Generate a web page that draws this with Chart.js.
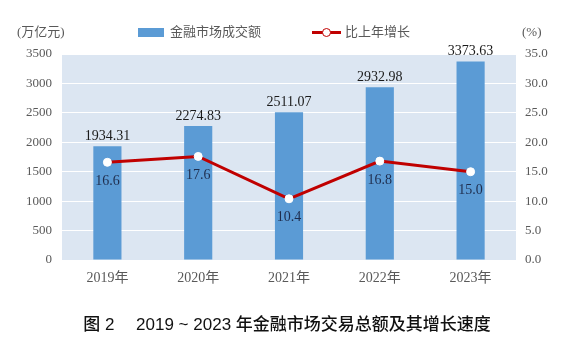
<!DOCTYPE html>
<html>
<head>
<meta charset="utf-8">
<script src="https://cdn.jsdelivr.net/npm/chart.js@4"></script>
<style>
  html, body { margin: 0; padding: 0; background: #fff; }
  #wrap { position: relative; width: 574px; height: 354px; }
  .lbl { position: absolute; white-space: nowrap; color: #595959; font: 13px "Liberation Serif", "Noto Sans CJK SC", serif; line-height: 1; }
  .key { position: absolute; }
  #title { position: absolute; left: 0; width: 574px; top: 316px; text-align: center; font: 500 17px "Liberation Sans", "Noto Sans CJK SC", sans-serif; color: #111; line-height: 1; }
</style>
</head>
<body>
<div id="wrap">
  <canvas id="mainChart" width="574" height="354"></canvas>
  <div class="lbl" style="left:17px; top:25px;">(万亿元)</div>
  <div class="lbl" style="left:522px; top:25px;">(%)</div>
  <div class="key" style="left:138px; top:28px; width:26px; height:9px; background:#5b9bd5;"></div>
  <div class="lbl" style="left:170px; top:25px;">金融市场成交额</div>
  <div class="key" style="left:312px; top:31px; width:29px; height:3px; background:#c00000;"></div>
  <div class="key" style="left:322px; top:28px; width:7px; height:7px; border-radius:50%; background:#fff; border:1px solid #c00000;"></div>
  <div class="lbl" style="left:345px; top:25px;">比上年增长</div>
  <div id="title">图 2　 2019 ~ 2023 年金融市场交易总额及其增长速度</div>
</div>
<script>
const years = ["2019年", "2020年", "2021年", "2022年", "2023年"];
const turnover = [1934.31, 2274.83, 2511.07, 2932.98, 3373.63];
const growth = [16.6, 17.6, 10.4, 16.8, 15.0];

const serif = '"Liberation Serif", "Noto Sans CJK SC", serif';

// light blue plot background
const plotBg = {
  id: "plotBg",
  beforeDraw(chart) {
    const { ctx, chartArea: a } = chart;
    ctx.save();
    ctx.fillStyle = "#dce6f2";
    ctx.fillRect(a.left, a.top, a.right - a.left, a.bottom - a.top);
    ctx.restore();
  }
};

// value labels above bars / below points
const valueLabels = {
  id: "valueLabels",
  afterDatasetsDraw(chart) {
    const ctx = chart.ctx;
    ctx.save();
    ctx.font = "14px " + serif;
    ctx.textAlign = "center";
    ctx.textBaseline = "middle";
    chart.getDatasetMeta(1).data.forEach((el, i) => {
      ctx.fillStyle = "#1a1a1a";
      ctx.fillText(turnover[i].toFixed(2), el.x, el.y - 10);
    });
    chart.getDatasetMeta(0).data.forEach((el, i) => {
      ctx.fillStyle = "#1f2d4d";
      ctx.fillText(growth[i].toFixed(1), el.x, el.y + 19);
    });
    ctx.restore();
  }
};

const mainCtx = document.getElementById("mainChart").getContext("2d");
const mainChart = new Chart(mainCtx, {
  data: {
    labels: years,
    datasets: [
      {
        type: "line",
        label: "比上年增长",
        data: growth,
        yAxisID: "yRight",
        borderColor: "#c00000",
        borderWidth: 3,
        pointRadius: 4,
        pointBackgroundColor: "#ffffff",
        pointBorderColor: "#ffffff",
        pointBorderWidth: 1,
        tension: 0,
        order: 0
      },
      {
        type: "bar",
        label: "金融市场成交额",
        data: turnover,
        yAxisID: "yLeft",
        backgroundColor: "#5b9bd5",
        barPercentage: 0.31,
        categoryPercentage: 1.0,
        order: 1
      }
    ]
  },
  options: {
    responsive: false,
    animation: false,
    layout: {
      padding: { top: 54, bottom: 60, left: 0, right: 0 }
    },
    plugins: {
      legend: { display: false },
      tooltip: { enabled: false }
    },
    scales: {
      x: {
        grid: { display: false, drawTicks: false },
        border: { display: false },
        ticks: { color: "#595959", font: { family: serif, size: 14 }, padding: 10 },
        afterFit(scale) { scale.height = 34; }
      },
      yLeft: {
        position: "left",
        min: 0,
        max: 3500,
        grid: { color: "#ffffff", lineWidth: 1, drawTicks: false },
        border: { display: false },
        ticks: {
          stepSize: 500,
          color: "#595959",
          font: { family: serif, size: 13 },
          padding: 10,
          callback: (v) => String(v)
        },
        afterFit(scale) { scale.width = 62; }
      },
      yRight: {
        position: "right",
        min: 0,
        max: 35,
        grid: { display: false, drawTicks: false },
        border: { display: false },
        ticks: {
          stepSize: 5,
          color: "#595959",
          font: { family: serif, size: 13 },
          padding: 9,
          callback: (v) => Number(v).toFixed(1)
        },
        afterFit(scale) { scale.width = 58; }
      }
    }
  },
  plugins: [plotBg, valueLabels]
});
</script>
</body>
</html>
